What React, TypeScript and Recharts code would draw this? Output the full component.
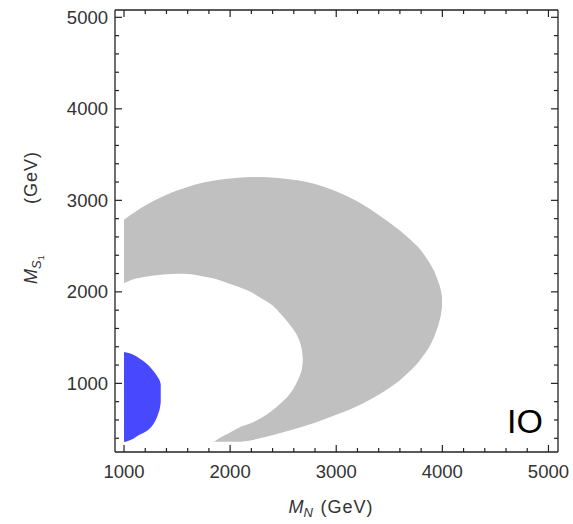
import { ComposedChart, Area, XAxis, YAxis } from 'recharts';

// M_N (GeV) sample points along each region, with lower / upper edge in M_S1 (GeV)
const outerMN = [1000, 1100, 1200, 1300, 1400, 1500, 1600, 1700, 1800, 1900, 2000, 2100, 2190, 2250, 2350, 2500, 2650, 2800, 2950, 3100, 3250, 3400, 3500, 3600, 3700, 3780, 3850, 3900, 3940, 3970, 3988, 3997];
const outerLow = [362, 362, 362, 362, 362, 362, 362, 362, 362, 362, 362, 362, 375, 392, 420, 466, 515, 570, 635, 700, 780, 875, 950, 1035, 1140, 1240, 1350, 1450, 1560, 1670, 1760, 1840];
const outerHigh = [2789, 2869, 2943, 3006, 3061, 3108, 3147, 3181, 3205, 3225, 3238, 3249, 3254, 3256, 3253, 3240, 3216, 3178, 3120, 3047, 2955, 2840, 2757, 2670, 2570, 2478, 2370, 2276, 2180, 2085, 2005, 1940];

const innerMN = [990, 1000, 1100, 1200, 1300, 1400, 1500, 1600, 1700, 1800, 1845, 1900, 2000, 2100, 2200, 2300, 2400, 2480, 2550, 2600, 2640, 2665, 2678, 2684];
const innerLow = [330, 330, 330, 330, 330, 330, 330, 330, 330, 330, 360, 402, 464, 525, 566, 627, 707, 785, 868, 950, 1040, 1110, 1170, 1230];
const innerHigh = [2092, 2096, 2142, 2165, 2182, 2193, 2198, 2195, 2180, 2157, 2147, 2127, 2086, 2045, 1995, 1925, 1852, 1756, 1660, 1582, 1500, 1420, 1350, 1280];

const blueMN = [1000, 1088, 1150, 1214, 1245, 1290, 1320, 1338, 1346];
const blueLow = [358, 396, 440, 480, 510, 580, 660, 730, 790];
const blueHigh = [1342, 1313, 1270, 1215, 1180, 1115, 1065, 1025, 990];

const xTicks = [1000, 1200, 1400, 1600, 1800, 2000, 2200, 2400, 2600, 2800, 3000, 3200, 3400, 3600, 3800, 4000, 4200, 4400, 4600, 4800, 5000];
const yTicks = [400, 600, 800, 1000, 1200, 1400, 1600, 1800, 2000, 2200, 2400, 2600, 2800, 3000, 3200, 3400, 3600, 3800, 4000, 4200, 4400, 4600, 4800, 5000];

const toRows = (xs: number[], lo: number[], hi: number[]) =>
  xs.map((x, i) => ({ mN: x, range: [lo[i], hi[i]] }));

const outerData = toRows(outerMN, outerLow, outerHigh);
const innerData = toRows(innerMN, innerLow, innerHigh);
const blueData = toRows(blueMN, blueLow, blueHigh);

const FONT = '"Liberation Sans", Arial, sans-serif';
const INK = '#222';
const isMajor = (v: number) => v % 1000 === 0;
const len = (v: number) => (isMajor(v) ? 7 : 4);

function BottomTick({ x, y, payload }: any) {
  const v = payload.value;
  return (
    <g>
      <line x1={x} y1={y} x2={x} y2={y - len(v)} stroke={INK} strokeWidth={1.2} />
      {isMajor(v) && (
        <text x={x} y={y + 26} textAnchor="middle" fontFamily={FONT} fontSize={18.5} fill="#333">
          {v}
        </text>
      )}
    </g>
  );
}

function TopTick({ x, y, payload }: any) {
  return <line x1={x} y1={y} x2={x} y2={y + len(payload.value)} stroke={INK} strokeWidth={1.2} />;
}

function LeftTick({ x, y, payload }: any) {
  const v = payload.value;
  return (
    <g>
      <line x1={x} y1={y} x2={x + len(v)} y2={y} stroke={INK} strokeWidth={1.2} />
      {isMajor(v) && (
        <text x={x - 7} y={y + 6.5} textAnchor="end" fontFamily={FONT} fontSize={18.5} fill="#333">
          {v}
        </text>
      )}
    </g>
  );
}

function RightTick({ x, y, payload }: any) {
  return <line x1={x} y1={y} x2={x - len(payload.value)} y2={y} stroke={INK} strokeWidth={1.2} />;
}

function XTitle({ viewBox }: any) {
  const left = viewBox.x + viewBox.width / 2 - 48;
  return (
    <text x={left} y={viewBox.y + 61} fontFamily={FONT} fontSize={18} fill="#333">
      <tspan fontStyle="italic">M</tspan>
      <tspan fontStyle="italic" fontSize={13} dy={4}>N</tspan>
      <tspan x={left + 32} dy={-4} letterSpacing={1}>(GeV)</tspan>
    </text>
  );
}

function YTitle() {
  const cx = 37;
  const cy = 284;
  return (
    <text x={cx} y={cy} transform={`rotate(-90, ${cx}, ${cy})`} fontFamily={FONT} fontSize={18} fill="#333">
      <tspan fontStyle="italic">M</tspan>
      <tspan fontStyle="italic" fontSize={13} dy={4}>S</tspan>
      <tspan fontSize={9} dy={3}>1</tspan>
      <tspan x={cx + 80} dy={-7} letterSpacing={1}>(GeV)</tspan>
    </text>
  );
}

export default function App() {
  return (
    <div style={{ position: 'absolute', left: 0, top: 0, width: 573, height: 524, background: '#fff' }}>
      <ComposedChart width={573} height={524} margin={{ top: 9, right: 14, bottom: 0, left: 0 }}>
        <XAxis
          type="number"
          dataKey="mN"
          domain={[915, 5090]}
          allowDataOverflow
          ticks={xTicks}
          interval={0}
          height={72}
          tickSize={0}
          tickMargin={0}
          tickLine={false}
          axisLine={{ stroke: INK, strokeWidth: 1.3 }}
          tick={<BottomTick />}
          label={<XTitle />}
        />
        <XAxis
          xAxisId="top"
          orientation="top"
          type="number"
          dataKey="mN"
          domain={[915, 5090]}
          allowDataOverflow
          ticks={xTicks}
          interval={0}
          height={1}
          tickSize={0}
          tickMargin={0}
          tickLine={false}
          axisLine={{ stroke: INK, strokeWidth: 1.3 }}
          tick={<TopTick />}
        />
        <YAxis
          type="number"
          domain={[250, 5080]}
          allowDataOverflow
          ticks={yTicks}
          interval={0}
          width={115}
          tickSize={0}
          tickMargin={0}
          tickLine={false}
          axisLine={{ stroke: INK, strokeWidth: 1.3 }}
          tick={<LeftTick />}
          label={<YTitle />}
        />
        <YAxis
          yAxisId="right"
          orientation="right"
          type="number"
          domain={[250, 5080]}
          allowDataOverflow
          ticks={yTicks}
          interval={0}
          width={1}
          tickSize={0}
          tickMargin={0}
          tickLine={false}
          axisLine={{ stroke: INK, strokeWidth: 1.3 }}
          tick={<RightTick />}
        />
        <Area data={outerData} dataKey="range" type="monotone" fill="#c0c0c0" fillOpacity={1} stroke="none" isAnimationActive={false} />
        <Area data={innerData} dataKey="range" type="monotone" fill="#ffffff" fillOpacity={1} stroke="none" isAnimationActive={false} />
        <Area data={blueData} dataKey="range" type="monotone" fill="#4848ff" fillOpacity={1} stroke="none" isAnimationActive={false} />
        <text x={543} y={433} textAnchor="end" fontFamily={FONT} fontSize={34} fill="#000">
          IO
        </text>
      </ComposedChart>
    </div>
  );
}
